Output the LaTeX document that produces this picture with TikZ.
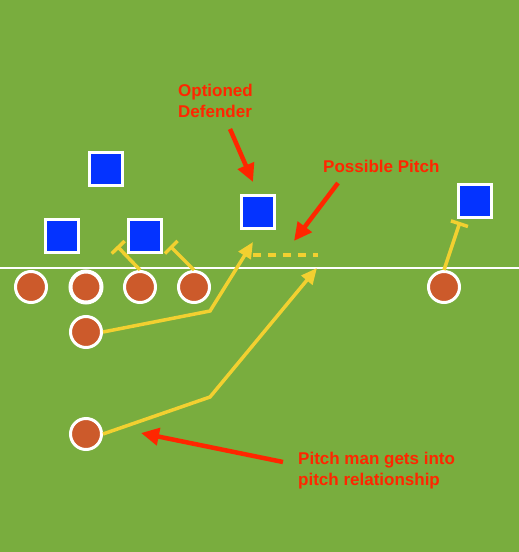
\documentclass[tikz,border=0pt]{standalone}
\usepackage{fontspec}
\setmainfont{Liberation Sans}
\usepackage{tikz}
\usetikzlibrary{arrows.meta, positioning, shadows}
\definecolor{myfield}{RGB}{121,173,62}
\definecolor{myblue}{RGB}{4,51,255}
\definecolor{myorange}{RGB}{204,90,43}
\definecolor{myyellow}{RGB}{242,208,48}
\definecolor{myred}{RGB}{255,38,0}
\tikzset{
  defender/.style={rectangle, draw=white, fill=myblue, minimum size=33pt,
    inner sep=0pt, line width=3pt,
    drop shadow={shadow xshift=1.5pt, shadow yshift=-1.5pt, opacity=0.3}},
  offense/.style={circle, draw=white, fill=myorange, minimum size=31pt,
    inner sep=0pt, line width=3pt},
  route/.style={draw=myyellow, line width=3.5pt, -{Triangle[length=16pt,width=14pt]}},
  blockline/.style={draw=myyellow, line width=3.5pt, -{Bar[width=18pt]}},
  pitchline/.style={draw=myyellow, line width=3.5pt, dash pattern=on 8pt off 7pt},
  callout/.style={draw=myred, line width=4.5pt, -{Triangle[length=18pt,width=17pt]}},
  lbl/.style={text=myred, font=\fontsize{17}{21}\selectfont\bfseries,
    inner sep=0pt, align=left}
}

\begin{document}
\begin{tikzpicture}[x=1pt, y=-1pt]
  % Field
  \useasboundingbox (0,0) rectangle (519,552);
  \fill[myfield] (0,0) rectangle (519,552);
  \draw[white, line width=1.2pt] (0,268) -- (519,268); % line of scrimmage

  % Defense
  \node[defender] (d1) at (106,169) {};
  \node[defender] (d2) at (62,236) {};
  \node[defender] (d3) at (145,236) {};
  \node[defender] (d4) at (258,212) {}; % optioned defender
  \node[defender] (d5) at (475,201) {};

  % Offense
  \node[offense] (o1) at (31,287) {};
  \node[offense, line width=4pt] (o2) at (86,287) {};
  \node[offense] (o3) at (140,287) {};
  \node[offense] (o4) at (194,287) {};
  \node[offense] (o5) at (444,287) {};
  \node[offense] (o6) at (86,332) {};
  \node[offense] (o7) at (86,434) {}; % pitch man

  % Blocks
  \coordinate (b3) at (117,246);
  \coordinate (b4) at (170,246);
  \coordinate (b5) at (460,222);
  \draw[blockline] (o3.north) -- (b3);
  \draw[blockline] (o4.north) -- (b4);
  \draw[blockline] (o5.north) -- (b5);

  % Routes
  \coordinate (c6) at (210,311);
  \coordinate (t6) at (253,242);
  \draw[route] (o6.east) -- (c6) -- (t6);
  \coordinate (c7) at (210,397);
  \coordinate (t7) at (317,268);
  \draw[route] (o7.east) -- (c7) -- (t7);

  % Pitch
  \coordinate (p1) at (253,255);
  \coordinate (p2) at (318,255);
  \draw[pitchline] (p1) -- (p2);

  % Labels
  \node[lbl, anchor=north west] (optlbl) at (178,84) {Optioned\\Defender};
  \node[lbl, anchor=base west] (pitchlbl) at (323,172) {Possible Pitch};
  \node[lbl, anchor=north west] (manlbl) at (298,452) {Pitch man gets into\\pitch relationship};

  % Callouts
  \coordinate (optTail) at (230,129);
  \coordinate (optHead) at (253,182);
  \draw[callout] (optTail) -- (optHead);
  \coordinate (pitchTail) at (338,183);
  \coordinate (pitchHead) at (294,241);
  \draw[callout] (pitchTail) -- (pitchHead);
  \coordinate (manTail) at (283,462);
  \coordinate (manHead) at (141,433);
  \draw[callout] (manTail) -- (manHead);
\end{tikzpicture}
\end{document}
